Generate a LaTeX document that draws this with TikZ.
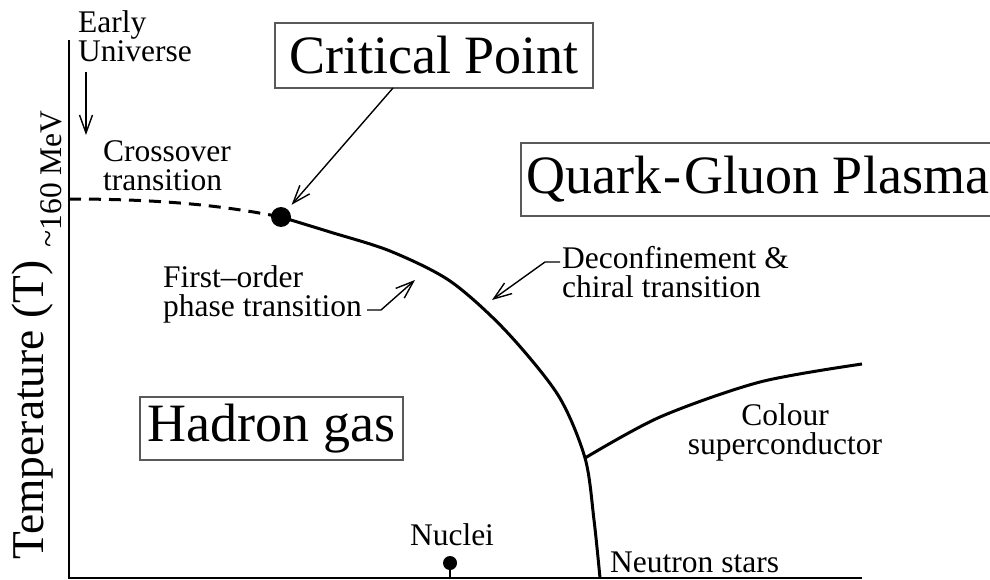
\documentclass[tikz,border=0pt]{standalone}
\usepackage{fontspec}
\setmainfont{Liberation Serif}
\usetikzlibrary{arrows.meta}
\newcommand\lblfont{\fontsize{31.5}{29}\selectfont}
\newcommand\bigfont{\fontsize{54}{58}\selectfont}
\newcommand\tempfont{\fontsize{45.5}{50}\selectfont}
\begin{document}
\begin{tikzpicture}[x=1pt,y=-1pt,
  ax/.style={line width=2.5pt},
  curve/.style={line width=3pt},
  lbl/.style={inner sep=0pt, font=\lblfont},
  bigbox/.style={draw=black!65, line width=1.6pt, inner sep=0pt, font=\bigfont},
  ptr/.style={line width=1.4pt, -{Straight Barb[length=18pt,width=13pt]}},
  dot/.style={circle, fill, inner sep=0pt}]
\useasboundingbox (0,0) rectangle (990,580);
% axes
\coordinate (O) at (69,578);
\coordinate (Ytop) at (69,40);
\coordinate (Xend) at (862,578);
\draw[ax] (Ytop) -- (O) -- (Xend);
% axis labels
\node[rotate=90, inner sep=0pt, font=\tempfont] (Tlab) at (33,410) {Temperature (T)};
\node[rotate=90, lbl] (Tmev) at (51,179) {\raisebox{2.5pt}{\textasciitilde}160 MeV};
% critical point and lines
\coordinate (Tc) at (69,199);
\node[dot, minimum size=20pt] (CP) at (281,217) {};
\draw[curve, dash pattern=on 12pt off 8pt] (Tc) .. controls (170,199) and (230,207) .. (CP.center);
\coordinate (B) at (585,458);
\coordinate (NS) at (600,578);
\coordinate (CS) at (862,364);
\draw[curve] plot[smooth] coordinates {(CP.center) (330,232) (390,251) (450,281) (505,330) (558,395) (B) (594,520) (NS)};
\draw[curve] plot[smooth] coordinates {(B) (660,417) (760,382) (CS)};
% nuclei
\node[dot, minimum size=14pt] (Nd) at (450,563) {};
\coordinate (Nb) at (450,578);
\draw[line width=2pt] (Nd) -- (Nb);
\node[lbl, anchor=base] (Nuc) at (452,545) {Nuclei};
% boxes
\node[bigbox, minimum width=318pt, minimum height=65pt] (CPbox) at (434,55.5) {Critical Point};
\node[bigbox, anchor=west, minimum width=474pt, minimum height=73pt] (QGP) at (520,179.5) {Quark\kern2pt-\kern3pt Gluon Plasma};
\node[bigbox, minimum width=263pt, minimum height=63pt] (HG) at (271.5,428.5) {Hadron gas};
% labels
\node[lbl, anchor=north west, align=left] (EU) at (78,10) {Early\\Universe};
\node[lbl, anchor=north west, align=left] (CO) at (103,140) {Crossover\\transition};
\node[lbl, anchor=north west, align=left] (FO) at (163,265) {First--order\\phase transition};
\node[lbl, anchor=north west, align=left] (DC) at (562,246) {Deconfinement \&\\chiral transition};
\node[lbl, anchor=north, align=center] (CSl) at (785,403) {Colour\\superconductor};
\node[lbl, anchor=base west] (NSl) at (610,572) {Neutron stars};
% pointers
\coordinate (eu1) at (86,72);
\coordinate (eu2) at (86,135);
\draw[ptr] (eu1) -- (eu2);
\coordinate (cpa) at (393,88);
\draw[ptr, shorten >=6pt] (cpa) -- (CP);
\coordinate (fo1) at (367,310);
\coordinate (fo2) at (381,310);
\coordinate (fo3) at (415,280);
\draw[ptr] (fo1) -- (fo2) -- (fo3);
\coordinate (dc1) at (560,262);
\coordinate (dc2) at (545,262);
\coordinate (dc3) at (492,300);
\draw[ptr] (dc1) -- (dc2) -- (dc3);
\end{tikzpicture}
\end{document}
